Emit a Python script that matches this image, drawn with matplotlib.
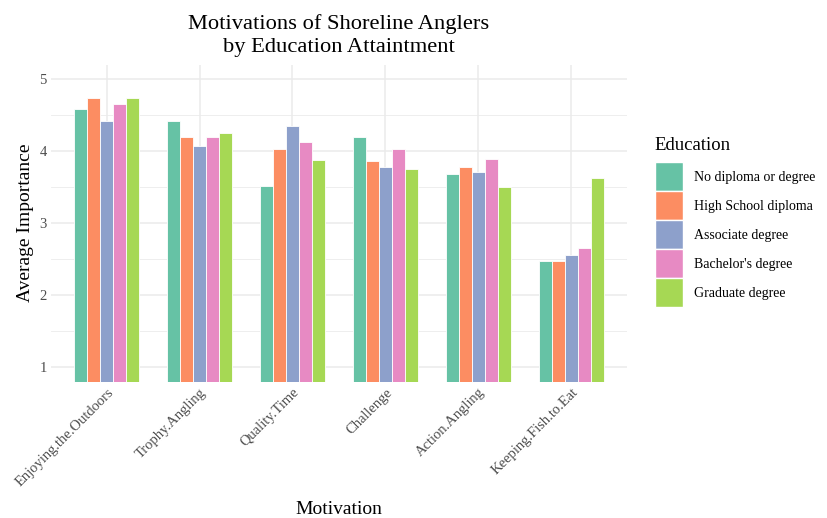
import matplotlib
matplotlib.use("Agg")
import matplotlib.pyplot as plt
import numpy as np
from matplotlib.patches import Patch

plt.rcParams['font.family'] = ['Liberation Serif', 'DejaVu Serif']

motivations = ["Enjoying.the.Outdoors", "Trophy.Angling", "Quality.Time",
               "Challenge", "Action.Angling", "Keeping.Fish.to.Eat"]
education = ["No diploma or degree", "High School diploma", "Associate degree",
             "Bachelor's degree", "Graduate degree"]
no_diploma = [4.58, 4.42, 3.52, 4.20, 3.68, 2.47]
high_school = [4.74, 4.19, 4.03, 3.86, 3.78, 2.47]
associate = [4.42, 4.07, 4.35, 3.78, 3.71, 2.56]
bachelor = [4.65, 4.19, 4.12, 4.03, 3.89, 2.65]
graduate = [4.74, 4.25, 3.88, 3.75, 3.50, 3.62]
series = [no_diploma, high_school, associate, bachelor, graduate]
colors = ["#66C2A5", "#FC8D62", "#8DA0CB", "#E78AC3", "#A6D854"]

fig = plt.figure(figsize=(8.28, 5.18), dpi=100)
ax = fig.add_axes([0.0616, 0.2631, 0.757 - 0.0616, 0.6122])

x = np.arange(1, len(motivations) + 1)
bw = 0.7 / len(series)
for i, (vals, c) in enumerate(zip(series, colors)):
    offs = (i - (len(series) - 1) / 2) * bw
    ax.bar(x + offs, np.array(vals) - 0.8, bottom=0.8, width=bw, color=c,
           edgecolor="white", linewidth=0.6, zorder=3)

ax.set_xlim(0.4, len(motivations) + 0.6)
ax.set_ylim(0.8, 5.2)
ax.set_yticks([1, 2, 3, 4, 5])
ax.set_yticks([1.5, 2.5, 3.5, 4.5], minor=True)
ax.set_xticks(x)
ax.set_xticklabels(motivations, rotation=45, ha="right", rotation_mode="anchor")
ax.grid(True, which="major", color="#EBEBEB", linewidth=1.1, zorder=0)
ax.grid(True, which="minor", axis="y", color="#EBEBEB", linewidth=0.6, zorder=0)
ax.tick_params(which="both", length=0)
ax.tick_params(axis="both", labelsize=10.5, labelcolor="#4D4D4D", pad=3)
for s in ax.spines.values():
    s.set_visible(False)
ax.set_axisbelow(True)

ax.set_xlabel("Motivation", fontsize=14, labelpad=9)
ax.set_ylabel("Average Importance", fontsize=14, labelpad=4)
ax.set_title("Motivations of Shoreline Anglers\nby Education Attaintment",
             fontsize=16.2, linespacing=1.3, pad=9)

handles = [Patch(facecolor=c, edgecolor="white", linewidth=1.0, label=l)
           for c, l in zip(colors, education)]
leg = fig.legend(handles=handles, title="Education", loc="upper left",
                 bbox_to_anchor=(0.779, 0.755), frameon=False, fontsize=10,
                 title_fontsize=13.5, handlelength=2.05, handleheight=2.84,
                 labelspacing=0.0, handletextpad=0.75, borderpad=0.2)
leg._legend_box.align = "left"
leg._legend_box.sep = 6

fig.savefig("out.png", dpi=100)
